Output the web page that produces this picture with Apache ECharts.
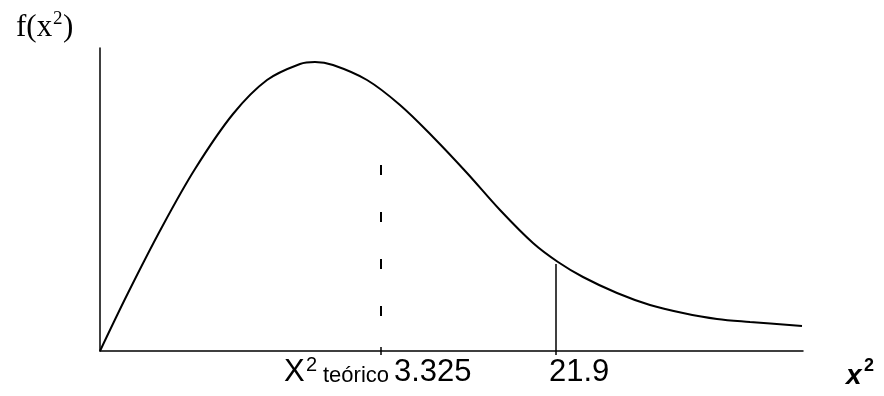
<!DOCTYPE html>
<html>
<head>
<meta charset="utf-8">
<script src="https://cdn.jsdelivr.net/npm/echarts@6/dist/echarts.min.js"></script>
<style>
  html, body { margin: 0; padding: 0; background: #fff; }
  #chart { width: 884px; height: 396px; }
</style>
</head>
<body>
<div id="chart"></div>
<script>
// curve (x along axis, y height above axis)
var curveX = [0, 28, 62, 95, 133, 167, 200, 215, 233, 267, 300, 333, 367, 400, 433, 458, 483, 517, 550, 583, 617, 650, 702];
var curveY = [0, 58, 124, 182, 237, 271, 287, 289, 286, 271, 246, 214, 178, 141, 108, 89, 74, 58, 46, 38, 32, 29, 25];
// critical values
var tablaX = 281;      // X2 teorico
var tablaTop = 186;
var calcX = 456;       // 21.9
var calcTop = 87;

var curve = [];
for (var i = 0; i < curveX.length; i++) {
	curve.push([curveX[i], curveY[i]]);
}

var myChart = echarts.init(document.getElementById('chart'));
var option = {
	animation: false,
	grid: {
		left: 100,
		right: 81,
		top: 48,
		bottom: 45
	},
	xAxis: {
		type: 'value',
		min: 0,
		max: 703,
		axisLine: { lineStyle: { color: '#000', width: 1.5 } },
		axisTick: { show: false },
		axisLabel: { show: false },
		splitLine: { show: false }
	},
	yAxis: {
		type: 'value',
		min: 0,
		max: 303,
		axisLine: { show: true, lineStyle: { color: '#000', width: 1.5 } },
		axisTick: { show: false },
		axisLabel: { show: false },
		splitLine: { show: false }
	},
	series: [
		{
			type: 'line',
			data: curve,
			smooth: 0.35,
			symbol: 'none',
			lineStyle: { color: '#000', width: 2 }
		},
		{
			// teorico, dashed
			type: 'line',
			data: [[tablaX, tablaTop], [tablaX, 0]],
			symbol: 'none',
			lineStyle: { color: '#000', width: 2, type: [10, 37] }
		},
		{
			type: 'line',
			data: [[tablaX, 4], [tablaX, -4]],
			symbol: 'none',
			clip: false,
			lineStyle: { color: '#000', width: 1.5 }
		},
		{
			// calculado, solid
			type: 'line',
			data: [[calcX, calcTop], [calcX, -4]],
			symbol: 'none',
			clip: false,
			lineStyle: { color: '#000', width: 1.5 }
		}
	],
	graphic: [
		{ type: 'text', x: 16, y: 12, style: { text: 'f(x', font: '31px "Liberation Serif"', fill: '#000' } },
		{ type: 'text', x: 53, y: 10, style: { text: '2', font: '19px "Liberation Serif"', fill: '#000' } },
		{ type: 'text', x: 63, y: 12, style: { text: ')', font: '31px "Liberation Serif"', fill: '#000' } },

		{ type: 'text', x: 284, y: 357, style: { text: 'X', font: '31px "Liberation Sans"', fill: '#000' } },
		{ type: 'text', x: 306, y: 355, style: { text: '2', font: '20px "Liberation Sans"', fill: '#000' } },
		{ type: 'text', x: 323, y: 365, style: { text: 'teórico', font: '22px "Liberation Sans"', fill: '#000' } },
		{ type: 'text', x: 394, y: 357, style: { text: '3.325', font: '31px "Liberation Sans"', fill: '#000' } },
		{ type: 'text', x: 549, y: 357, style: { text: '21.9', font: '31px "Liberation Sans"', fill: '#000' } },

		{ type: 'text', x: 846, y: 362, style: { text: 'x', font: 'italic bold 28px "Liberation Sans"', fill: '#000' } },
		{ type: 'text', x: 864, y: 357, style: { text: '2', font: 'bold 18px "Liberation Sans"', fill: '#000' } }
	]
};
myChart.setOption(option);
</script>
</body>
</html>
